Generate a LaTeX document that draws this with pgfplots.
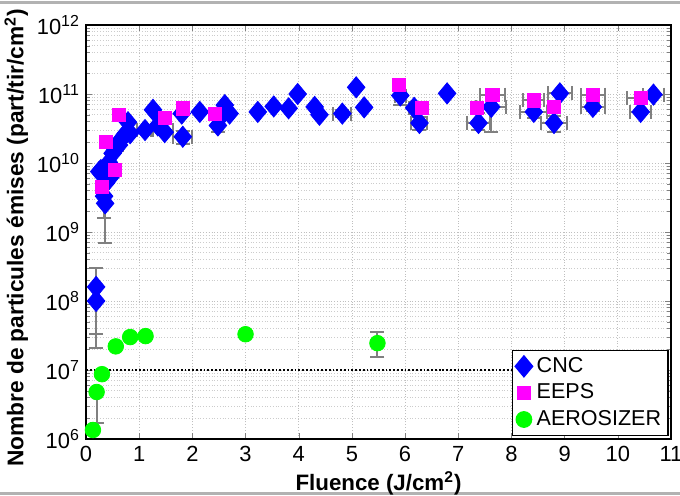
\documentclass[border=0pt]{standalone}
\usepackage{fontspec}
\setmainfont{Liberation Sans}
\usepackage{pgfplots}
\usepackage{pgfplotstable}
\pgfplotsset{compat=1.18}
\pgfdeclareplotmark{mdiamond}{%
  \pgfpathmoveto{\pgfqpoint{0pt}{1.2\pgfplotmarksize}}%
  \pgfpathlineto{\pgfqpoint{\pgfplotmarksize}{0pt}}%
  \pgfpathlineto{\pgfqpoint{0pt}{-1.2\pgfplotmarksize}}%
  \pgfpathlineto{\pgfqpoint{-\pgfplotmarksize}{0pt}}%
  \pgfpathclose\pgfusepathqfillstroke}
\definecolor{cncblue}{rgb}{0,0,1}
\definecolor{eepsmag}{rgb}{1,0,1}
\definecolor{aerogreen}{rgb}{0,1,0}
\definecolor{errgray}{rgb}{0.5,0.5,0.5}
\newcommand{\tp}[1]{10\raisebox{0.75ex}{\fontsize{8}{9}\selectfont #1}}

% CNC data
\pgfplotstableread{
x y
0.19 1.6e8
0.19 1.0e8
0.36 2.6e9
0.34 3.3e9
0.38 5.2e9
0.25 7.5e9
0.28 7.9e9
0.40 8.0e9
0.50 6.8e9
0.43 1.02e10
0.50 1.38e10
0.55 1.6e10
0.62 1.82e10
0.66 2.2e10
0.72 2.5e10
0.75 2.7e10
0.79 3.9e10
0.83 2.7e10
1.11 3.0e10
1.26 5.9e10
1.35 3.5e10
1.48 2.8e10
1.80 5.2e10
1.82 2.4e10
2.14 5.5e10
2.48 3.5e10
2.58 5.2e10
2.61 6.9e10
2.70 5.2e10
3.23 5.5e10
3.53 6.6e10
3.81 6.2e10
3.98 1.0e11
4.30 6.5e10
4.39 5.0e10
4.82 5.2e10
5.08 1.25e11
5.23 6.4e10
5.91 9.5e10
6.17 6.3e10
6.27 3.8e10
6.79 1.02e11
7.38 3.8e10
7.62 6.5e10
8.42 5.5e10
8.80 3.8e10
8.91 1.02e11
9.53 6.5e10
10.43 5.5e10
10.67 9.8e10
}\cncdata

% EEPS data
\pgfplotstableread{
x y
0.30 4.5e9
0.55 7.9e9
0.37 2.0e10
0.62 5.0e10
1.48 4.5e10
1.82 6.2e10
2.42 5.2e10
5.89 1.35e11
6.32 6.3e10
7.35 6.3e10
7.64 9.8e10
8.42 8.1e10
8.80 6.5e10
9.53 9.8e10
10.43 8.7e10
}\eepsdata

% AEROSIZER data
\pgfplotstableread{
x y
0.13 1.35e6
0.20 4.8e6
0.30 8.7e6
0.56 2.2e7
0.83 3.0e7
1.12 3.1e7
3.00 3.3e7
5.48 2.45e7
}\aerodata

% error bars: x y ex- ex+ ey- ey+
\pgfplotstableread{
x y exm exp eym eyp
0.19 1.6e8 0 0 1.27e8 1.4e8
0.19 1.0e8 0 0 0.79e8 0
0.36 2.6e9 0 0 1.9e9 0
0.34 3.3e9 0.05 0.05 1.7e9 0
0.50 1.38e10 0 0 0.5e10 0.5e10
0.62 1.82e10 0.08 0.08 0 0
1.11 3.0e10 0.15 0.15 0 0
1.43 3.0e10 0.2 0.2 0 0
1.82 2.4e10 0.18 0.18 0.5e10 0.5e10
2.48 3.5e10 0 0 0.7e10 0
4.82 5.2e10 0.17 0.17 0.6e10 0.6e10
5.91 9.5e10 0.1 0.1 2.5e10 0
6.17 6.3e10 0.1 0.1 0 0
6.27 3.8e10 0.15 0.15 0.8e10 0.8e10
7.38 3.8e10 0.22 0.22 0.8e10 1.5e10
7.62 6.5e10 0.28 0.28 3.7e10 0
8.42 5.5e10 0.25 0.25 1.0e10 1.0e10
8.80 3.8e10 0.25 0.25 1.0e10 1.0e10
8.91 1.02e11 0.22 0.22 0 0
9.53 6.5e10 0.23 0.23 0.8e10 0.8e10
10.43 5.5e10 0.2 0.2 0 0
10.67 9.8e10 0.2 0.2 0 0
7.64 9.8e10 0.24 0.24 0 0
9.53 9.8e10 0.22 0.22 0 0
10.43 8.7e10 0.25 0.25 0 0
8.42 8.1e10 0.2 0.2 0 0
0.20 4.8e6 0 0 3.1e6 0
5.48 2.45e7 0 0 0.92e7 1.15e7
}\errdata

\begin{document}
\begin{tikzpicture}
\path[use as bounding box] (-43bp,-28.5bp) rectangle (297bp,219.5bp);
\draw[gray!60, line width=1.5bp] (-43bp,218bp) -- (297bp,218bp);
\draw[gray!60, line width=1.5bp] (-43bp,-27bp) -- (297bp,-27bp);
\begin{axis}[
  scale only axis,
  width=292.5bp, height=207bp,
  at={(0,0)}, anchor=south west,
  ymode=log,
  xmin=0, xmax=11,
  ymin=1e6, ymax=1e12,
  xtick={0,1,...,11},
  ytick={1e6,1e7,1e8,1e9,1e10,1e11,1e12},
  yticklabels={\tp{6},\tp{7},\tp{8},\tp{9},\tp{10},\tp{11},\tp{12}},
  /pgf/number format/assume math mode=true,
  tick label style={font=\fontsize{11}{12}\selectfont},
  tick align=inside,
  tick pos=both,
  axis line style={line width=0.8bp},
  major tick length=3bp,
  minor tick length=1.8bp,
  xmajorgrids=true,
  ymajorgrids=true,
  yminorgrids=true,
  major grid style={densely dotted, gray!50, line width=0.4bp},
  minor grid style={densely dotted, gray!40, line width=0.4bp},
  xlabel={\bfseries Fluence (J/cm\textsuperscript{2})},
  ylabel={\bfseries Nombre de particules émises (part/tir/cm\textsuperscript{2})},
  xlabel style={font=\fontsize{11.2}{13}\selectfont, yshift=2bp},
  ylabel style={font=\fontsize{11.4}{13}\selectfont, yshift=-2.5bp, xshift=-3bp},
  legend style={at={(0.996,0.007)}, anchor=south east,
    font=\fontsize{10.8}{12}\selectfont, draw=black, line width=0.6bp,
    fill=white, inner sep=1.5bp, row sep=0.3bp,
    cells={anchor=west}},
  legend cell align=left,
  legend image code/.code={\draw[#1] plot coordinates {(0.15cm,0cm)};},
]
\addplot[black, densely dotted, line width=0.9bp, forget plot] coordinates {(0,1e7) (11,1e7)};
\addplot[draw=none, forget plot,
  error bars/.cd, x dir=both, x explicit, y dir=both, y explicit,
  error bar style={errgray, line width=1bp},
  error mark options={errgray, line width=1bp, mark size=3.5bp, rotate=90}]
  table[x=x, y=y, x error minus=exm, x error plus=exp, y error minus=eym, y error plus=eyp] {\errdata};
\addplot[only marks, mark=mdiamond, mark size=4.4bp, draw=cncblue, fill=cncblue] table[x=x,y=y] {\cncdata};
\addlegendentry{CNC}
\addplot[only marks, mark=square*, mark size=3.3bp, draw=eepsmag, fill=eepsmag] table[x=x,y=y] {\eepsdata};
\addlegendentry{EEPS}
\addplot[only marks, mark=*, mark size=3.9bp, draw=aerogreen, fill=aerogreen] table[x=x,y=y] {\aerodata};
\addlegendentry{AEROSIZER}
\end{axis}
\end{tikzpicture}
\end{document}
